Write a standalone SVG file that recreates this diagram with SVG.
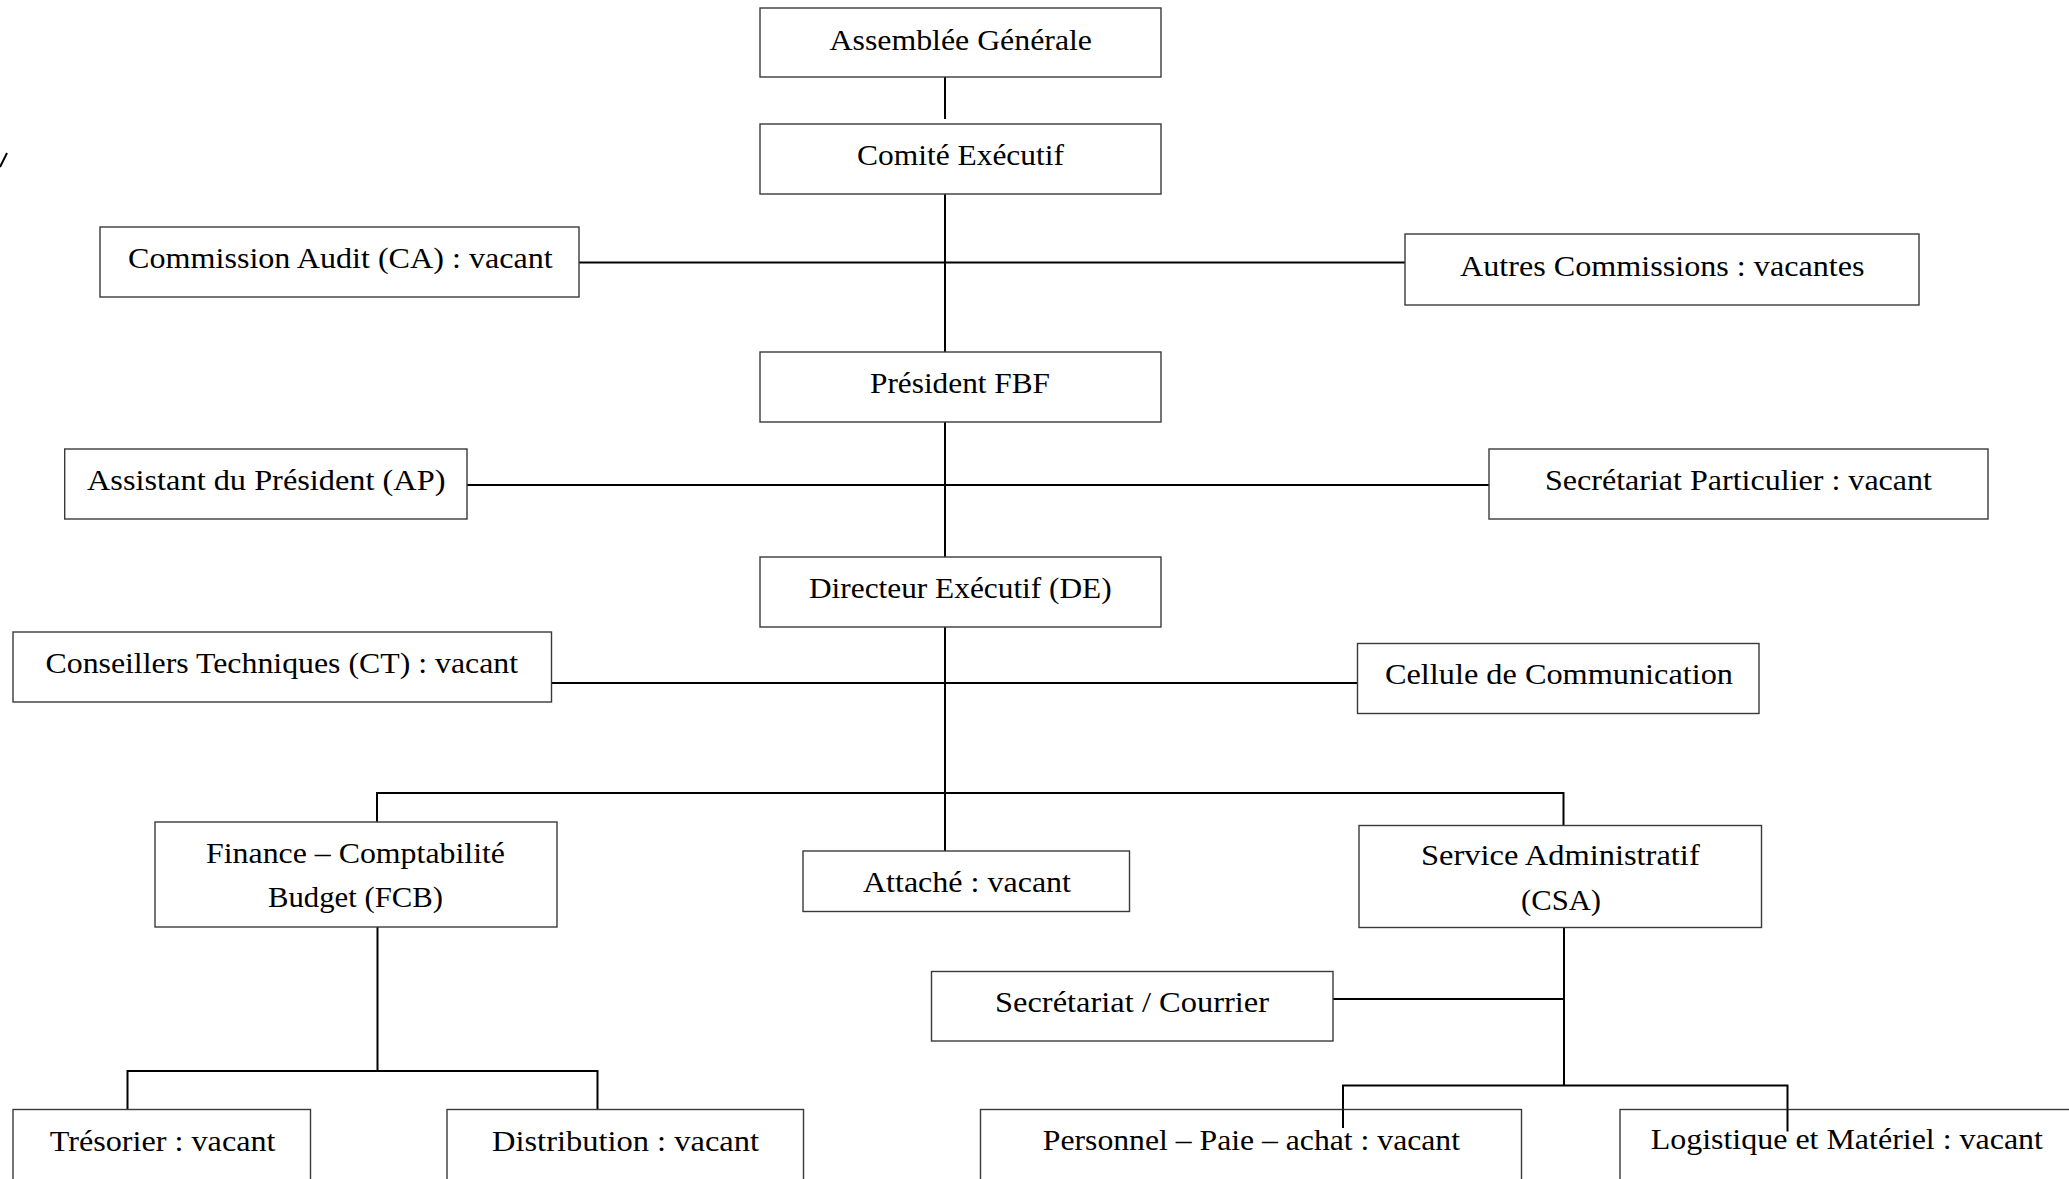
<svg xmlns="http://www.w3.org/2000/svg" width="2069" height="1179" viewBox="0 0 2069 1179">
<style>
.b{fill:#fff;stroke:#3a3a3a;stroke-width:1.4}
.t{font-family:"Liberation Serif","Times New Roman",serif;font-size:30px;fill:#000}
.c{stroke:#000;stroke-width:2;fill:none}
</style>
<rect width="2069" height="1179" fill="#fff"/>
<g id="connectors">
<path class="c" d="M945 75V119M945 194V352M579 262.5H1405M945 418V557M467 485H1489M945 627V851M551.5 683H1357.5"/>
<path class="c" d="M377 822V793H1563.5V825.5"/>
<path class="c" d="M377.5 927V1071M127.5 1109.5V1071H597.5V1109.5"/>
<path class="c" d="M1564 927.5V1085.5M1333 999H1564M1343 1128V1085.5H1787.5V1131.5"/>
<path class="c" d="M0 167L7 153"/>
</g>
<g id="ag"><rect class="b" x="760" y="8" width="401" height="69"/><text class="t" x="829.5" y="50" textLength="262.5" lengthAdjust="spacingAndGlyphs">Assemblée Générale</text></g>
<g id="ce"><rect class="b" x="760" y="124" width="401" height="70"/><text class="t" x="857" y="165.3" textLength="207" lengthAdjust="spacingAndGlyphs">Comité Exécutif</text></g>
<g id="ca"><rect class="b" x="100" y="227" width="479" height="70"/><text class="t" x="128" y="267.7" textLength="424.7" lengthAdjust="spacingAndGlyphs">Commission Audit (CA) : vacant</text></g>
<g id="ac"><rect class="b" x="1405" y="234" width="514" height="71"/><text class="t" x="1460" y="276" textLength="404.5" lengthAdjust="spacingAndGlyphs">Autres Commissions : vacantes</text></g>
<g id="pf"><rect class="b" x="760" y="352" width="401" height="70"/><text class="t" x="870" y="393.3" textLength="180" lengthAdjust="spacingAndGlyphs">Président FBF</text></g>
<g id="ap"><rect class="b" x="64.7" y="449" width="402.3" height="70"/><text class="t" x="87" y="490" textLength="358.5" lengthAdjust="spacingAndGlyphs">Assistant du Président (AP)</text></g>
<g id="sp"><rect class="b" x="1489" y="449" width="499" height="70"/><text class="t" x="1545" y="490" textLength="387" lengthAdjust="spacingAndGlyphs">Secrétariat Particulier : vacant</text></g>
<g id="de"><rect class="b" x="760" y="557" width="401" height="70"/><text class="t" x="809" y="598.3" textLength="302.7" lengthAdjust="spacingAndGlyphs">Directeur Exécutif (DE)</text></g>
<g id="ct"><rect class="b" x="13" y="632" width="538.5" height="70"/><text class="t" x="45.5" y="673.3" textLength="472.5" lengthAdjust="spacingAndGlyphs">Conseillers Techniques (CT) : vacant</text></g>
<g id="cc"><rect class="b" x="1357.5" y="643.5" width="401.5" height="70"/><text class="t" x="1385" y="684" textLength="348" lengthAdjust="spacingAndGlyphs">Cellule de Communication</text></g>
<g id="fcb"><rect class="b" x="155" y="822" width="402" height="105"/><text class="t" x="206" y="862.7" textLength="299" lengthAdjust="spacingAndGlyphs">Finance – Comptabilité</text><text class="t" x="268" y="907.3" textLength="175" lengthAdjust="spacingAndGlyphs">Budget (FCB)</text></g>
<g id="at"><rect class="b" x="803" y="851" width="326.5" height="60.5"/><text class="t" x="863" y="891.7" textLength="208" lengthAdjust="spacingAndGlyphs">Attaché : vacant</text></g>
<g id="csa"><rect class="b" x="1359" y="825.5" width="402.5" height="102"/><text class="t" x="1421" y="865" textLength="278.7" lengthAdjust="spacingAndGlyphs">Service Administratif</text><text class="t" x="1521" y="910" textLength="80" lengthAdjust="spacingAndGlyphs">(CSA)</text></g>
<g id="sc"><rect class="b" x="931.5" y="971.5" width="401.5" height="69.5"/><text class="t" x="995" y="1011.7" textLength="274" lengthAdjust="spacingAndGlyphs">Secrétariat / Courrier</text></g>
<g id="tr"><rect class="b" x="13" y="1109.5" width="297.5" height="80"/><text class="t" x="49.7" y="1150.7" textLength="225.8" lengthAdjust="spacingAndGlyphs">Trésorier : vacant</text></g>
<g id="di"><rect class="b" x="447" y="1109.5" width="356.5" height="80"/><text class="t" x="492" y="1150.7" textLength="267" lengthAdjust="spacingAndGlyphs">Distribution : vacant</text></g>
<g id="pe"><rect class="b" x="980.5" y="1109.5" width="541" height="80"/><text class="t" x="1042.8" y="1150" textLength="417.2" lengthAdjust="spacingAndGlyphs">Personnel – Paie – achat : vacant</text></g>
<g id="lo"><rect class="b" x="1620" y="1109.5" width="460" height="80"/><text class="t" x="1650.7" y="1148.8" textLength="392.3" lengthAdjust="spacingAndGlyphs">Logistique et Matériel : vacant</text></g>
<path class="c" d="M1343 1109.5V1128M1787.5 1109.5V1131.5"/>
</svg>
